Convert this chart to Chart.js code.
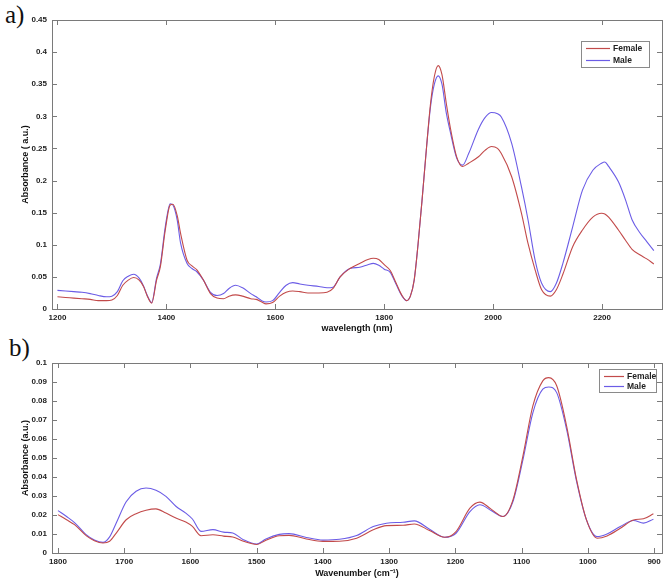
<!DOCTYPE html>
<html>
<head>
<meta charset="utf-8">
<script src="https://cdn.jsdelivr.net/npm/chart.js@4.4.1/dist/chart.umd.min.js"></script>
<style>
  html, body { margin: 0; padding: 0; background: #fff; }
  body { width: 666px; height: 579px; position: relative; overflow: hidden; }
  .panel { position: absolute; left: 0; }
  .tag { position: absolute; font-family: "Liberation Serif", "DejaVu Serif", serif; font-size: 25px; line-height: 25px; color: #111; }
</style>
</head>
<body>
<div class="tag" style="left:5px; top:2px;">a)</div>
<div class="tag" style="left:9px; top:335px;">b)</div>
<div class="panel" style="top:0;"><canvas id="nir" width="666" height="340"></canvas></div>
<div class="panel" style="top:340px;"><canvas id="ftir" width="666" height="239"></canvas></div>
<script>
// a) NIR spectra
const wavelength = [1200, 1215, 1230, 1245, 1260, 1275, 1290, 1300, 1310, 1320, 1330, 1340, 1350, 1358, 1365, 1373,
  1382, 1389, 1398, 1407, 1412, 1420, 1426, 1438, 1447, 1456, 1468, 1481, 1493, 1505, 1515, 1527, 1540, 1555,
  1565, 1575, 1583, 1595, 1608, 1620, 1632, 1645, 1660, 1680, 1695, 1706, 1719, 1737, 1755, 1770, 1780, 1790,
  1800, 1811, 1822, 1832, 1841, 1848, 1855, 1862, 1870, 1878, 1885, 1892, 1899, 1906, 1914, 1921, 1933, 1944,
  1955, 1973, 1985, 1997, 2008, 2015, 2034, 2052, 2064, 2077, 2089, 2105, 2116, 2128, 2146, 2164, 2183, 2199,
  2205, 2212, 2230, 2243, 2255, 2270, 2282, 2295];
const nirFemale = [0.019, 0.018, 0.017, 0.016, 0.015, 0.013, 0.013, 0.014, 0.021, 0.037, 0.045, 0.049, 0.045, 0.035, 0.020, 0.009,
  0.045, 0.066, 0.123, 0.162, 0.163, 0.145, 0.118, 0.076, 0.067, 0.061, 0.045, 0.024, 0.017, 0.016, 0.020, 0.022, 0.020, 0.016,
  0.015, 0.011, 0.008, 0.010, 0.020, 0.026, 0.028, 0.027, 0.025, 0.025, 0.026, 0.032, 0.050, 0.063, 0.071, 0.077, 0.079, 0.077,
  0.069, 0.060, 0.040, 0.022, 0.013, 0.020, 0.045, 0.100, 0.175, 0.255, 0.320, 0.362, 0.379, 0.365, 0.320, 0.284, 0.237, 0.222,
  0.227, 0.237, 0.247, 0.253, 0.250, 0.242, 0.206, 0.149, 0.102, 0.061, 0.030, 0.020, 0.030, 0.054, 0.097, 0.123, 0.143, 0.149,
  0.148, 0.143, 0.123, 0.107, 0.093, 0.084, 0.078, 0.070];
const nirMale = [0.029, 0.028, 0.027, 0.026, 0.024, 0.021, 0.019, 0.020, 0.027, 0.044, 0.051, 0.054, 0.048, 0.036, 0.021, 0.010,
  0.048, 0.070, 0.128, 0.164, 0.162, 0.138, 0.103, 0.071, 0.063, 0.058, 0.045, 0.026, 0.021, 0.024, 0.032, 0.037, 0.033, 0.024,
  0.019, 0.013, 0.011, 0.013, 0.026, 0.037, 0.041, 0.039, 0.037, 0.035, 0.033, 0.034, 0.050, 0.063, 0.065, 0.069, 0.071, 0.068,
  0.062, 0.057, 0.038, 0.021, 0.013, 0.020, 0.045, 0.100, 0.175, 0.255, 0.315, 0.350, 0.363, 0.350, 0.305, 0.277, 0.235, 0.224,
  0.242, 0.280, 0.298, 0.306, 0.304, 0.299, 0.258, 0.190, 0.139, 0.076, 0.040, 0.027, 0.040, 0.071, 0.128, 0.185, 0.216, 0.227,
  0.229, 0.222, 0.198, 0.170, 0.139, 0.118, 0.105, 0.091];
const nirTicksX = [1200, 1400, 1600, 1800, 2000, 2200];
const nirTicksY = [0, 0.05, 0.1, 0.15, 0.2, 0.25, 0.3, 0.35, 0.4, 0.45];

// b) FTIR spectra
const wavenumber = [1800, 1787, 1775, 1757, 1745, 1732, 1722, 1712, 1697, 1682, 1667, 1652, 1637, 1622, 1607, 1597,
  1584, 1566, 1550, 1536, 1520, 1500, 1486, 1466, 1451, 1425, 1400, 1375, 1349, 1324, 1304, 1279, 1262, 1239,
  1216, 1199, 1178, 1163, 1146, 1128, 1113, 1098, 1083, 1068, 1059, 1047, 1032, 1017, 1002, 986, 971, 951, 931, 916, 901];
const irFemale = [0.0202, 0.0175, 0.0149, 0.0090, 0.0065, 0.0053, 0.0062, 0.0105, 0.0175, 0.0207, 0.0225, 0.0232, 0.0210, 0.0184, 0.0163, 0.0140,
  0.0091, 0.0096, 0.0089, 0.0084, 0.0062, 0.0045, 0.0067, 0.0091, 0.0093, 0.0074, 0.0061, 0.0062, 0.0078, 0.0122, 0.0144, 0.0146, 0.0153, 0.0118,
  0.0083, 0.0113, 0.0236, 0.0268, 0.0231, 0.0192, 0.0280, 0.0510, 0.0774, 0.0906, 0.0923, 0.0880, 0.0668, 0.0386, 0.0174, 0.0078, 0.0090, 0.0130, 0.0174, 0.0180, 0.0206];
const irMale = [0.0223, 0.0192, 0.0160, 0.0095, 0.0068, 0.0056, 0.0085, 0.0158, 0.0270, 0.0325, 0.0342, 0.0330, 0.0298, 0.0246, 0.0210, 0.0179,
  0.0114, 0.0123, 0.0110, 0.0105, 0.0070, 0.0047, 0.0074, 0.0098, 0.0102, 0.0082, 0.0068, 0.0072, 0.0092, 0.0139, 0.0157, 0.0162, 0.0169, 0.0125,
  0.0083, 0.0104, 0.0218, 0.0254, 0.0224, 0.0192, 0.0271, 0.0490, 0.0738, 0.0862, 0.0874, 0.0844, 0.0650, 0.0377, 0.0174, 0.0086, 0.0100, 0.0139, 0.0171, 0.0157, 0.0178];
const irTicksX = [1800, 1700, 1600, 1500, 1400, 1300, 1200, 1100, 1000, 900];
const irTicksY = [0, 0.01, 0.02, 0.03, 0.04, 0.05, 0.06, 0.07, 0.08, 0.09, 0.1];

const RED = "#c24a4a";
const BLUE = "#6b5ce6";
const FONT = "'Liberation Sans', Arial, sans-serif";

// MATLAB style box with inward ticks, plus a boxed legend
const frame = {
  id: "frame",
  afterDatasetsDraw(chart, args, opts) {
    const { ctx, chartArea: a, scales: { x, y } } = chart;
    ctx.save();
    ctx.strokeStyle = "#7a7a7a";
    ctx.lineWidth = 1;
    ctx.strokeRect(Math.round(a.left) + 0.5, Math.round(a.top) + 0.5, Math.round(a.width), Math.round(a.height));
    ctx.beginPath();
    x.ticks.forEach(t => {
      const px = Math.round(x.getPixelForValue(t.value)) + 0.5;
      ctx.moveTo(px, a.bottom); ctx.lineTo(px, a.bottom - 5);
      ctx.moveTo(px, a.top); ctx.lineTo(px, a.top + 5);
    });
    y.ticks.forEach(t => {
      const py = Math.round(y.getPixelForValue(t.value)) + 0.5;
      ctx.moveTo(a.left, py); ctx.lineTo(a.left + 5, py);
      ctx.moveTo(a.right, py); ctx.lineTo(a.right - 5, py);
    });
    ctx.stroke();

    // legend
    const bx = Math.round(a.right - opts.right - opts.w), by = Math.round(a.top + opts.top);
    ctx.fillStyle = "#fff";
    ctx.fillRect(bx, by, opts.w, opts.h);
    ctx.strokeStyle = "#8a8a8a";
    ctx.strokeRect(bx + 0.5, by + 0.5, opts.w, opts.h);
    ctx.font = "bold 8.5px " + FONT;
    ctx.textBaseline = "middle";
    chart.data.datasets.forEach((ds, i) => {
      const ly = Math.round(by + opts.h / 2 + (i - 0.5) * opts.row) + 0.5;
      ctx.strokeStyle = ds.borderColor;
      ctx.lineWidth = 1.2;
      ctx.beginPath();
      ctx.moveTo(bx + opts.lineX, ly); ctx.lineTo(bx + opts.lineX + opts.lineW, ly);
      ctx.stroke();
      ctx.fillStyle = "#222";
      ctx.fillText(ds.label, bx + opts.lineX + opts.lineW + 3, ly);
    });
    ctx.restore();
  }
};

function pts(xs, ys) {
  return xs.map((v, i) => ({ x: v, y: ys[i] }));
}

function makeSpectrum(id, cfg) {
  const tickFont = { family: FONT, size: 8, weight: "bold" };
  const titleFont = { family: FONT, size: 9, weight: "bold" };
  new Chart(document.getElementById(id), {
    type: "line",
    data: {
      datasets: [
        { label: "Female", data: pts(cfg.xs, cfg.female), borderColor: RED },
        { label: "Male", data: pts(cfg.xs, cfg.male), borderColor: BLUE }
      ]
    },
    options: {
      responsive: false,
      animation: false,
      layout: { padding: { top: cfg.top, right: 4, left: 0, bottom: 0 } },
      elements: {
        point: { radius: 0 },
        line: { borderWidth: 1.1, cubicInterpolationMode: "monotone", fill: false }
      },
      plugins: {
        legend: { display: false },
        tooltip: { enabled: false },
        frame: cfg.legend
      },
      scales: {
        x: {
          type: "linear",
          min: cfg.xMin,
          max: cfg.xMax,
          reverse: cfg.reverse,
          afterBuildTicks: s => { s.ticks = cfg.xTicks.map(v => ({ value: v })); },
          afterFit: s => { s.height = cfg.xHeight; },
          grid: { display: false, drawTicks: false },
          border: { display: false },
          ticks: { padding: 4, color: "#222", font: tickFont, callback: v => String(v) },
          title: { display: true, text: cfg.xTitle, color: "#111", padding: { top: 0, bottom: cfg.xTitlePad }, font: titleFont }
        },
        y: {
          min: 0,
          max: cfg.yMax,
          afterBuildTicks: s => { s.ticks = cfg.yTicks.map(v => ({ value: v })); },
          afterFit: s => { s.width = 52; },
          grid: { display: false, drawTicks: false },
          border: { display: false },
          ticks: { padding: 5, color: "#222", font: tickFont, callback: v => String(v) },
          title: { display: true, text: cfg.yTitle, color: "#111", padding: { top: 20, bottom: 0 }, font: titleFont }
        }
      }
    },
    plugins: [frame]
  });
}

makeSpectrum("nir", {
  xs: wavelength, female: nirFemale, male: nirMale,
  xMin: 1190, xMax: 2310, reverse: false, xTicks: nirTicksX,
  yMax: 0.45, yTicks: nirTicksY,
  top: 20, xHeight: 31, xTitlePad: 6,
  xTitle: "wavelength (nm)", yTitle: "Absorbance ( a.u.)",
  legend: { right: 13, top: 21, w: 68, h: 26, row: 12, lineX: 5, lineW: 24 }
});

makeSpectrum("ftir", {
  xs: wavenumber, female: irFemale, male: irMale,
  xMin: 888, xMax: 1809, reverse: true, xTicks: irTicksX,
  yMax: 0.1, yTicks: irTicksY,
  top: 23, xHeight: 26, xTitlePad: 0,
  xTitle: "Wavenumber (cm\u207B\u00B9)", yTitle: "Absorbance (a.u.)",
  legend: { right: 6, top: 6, w: 57, h: 23, row: 10, lineX: 5, lineW: 20 }
});
</script>
</body>
</html>
